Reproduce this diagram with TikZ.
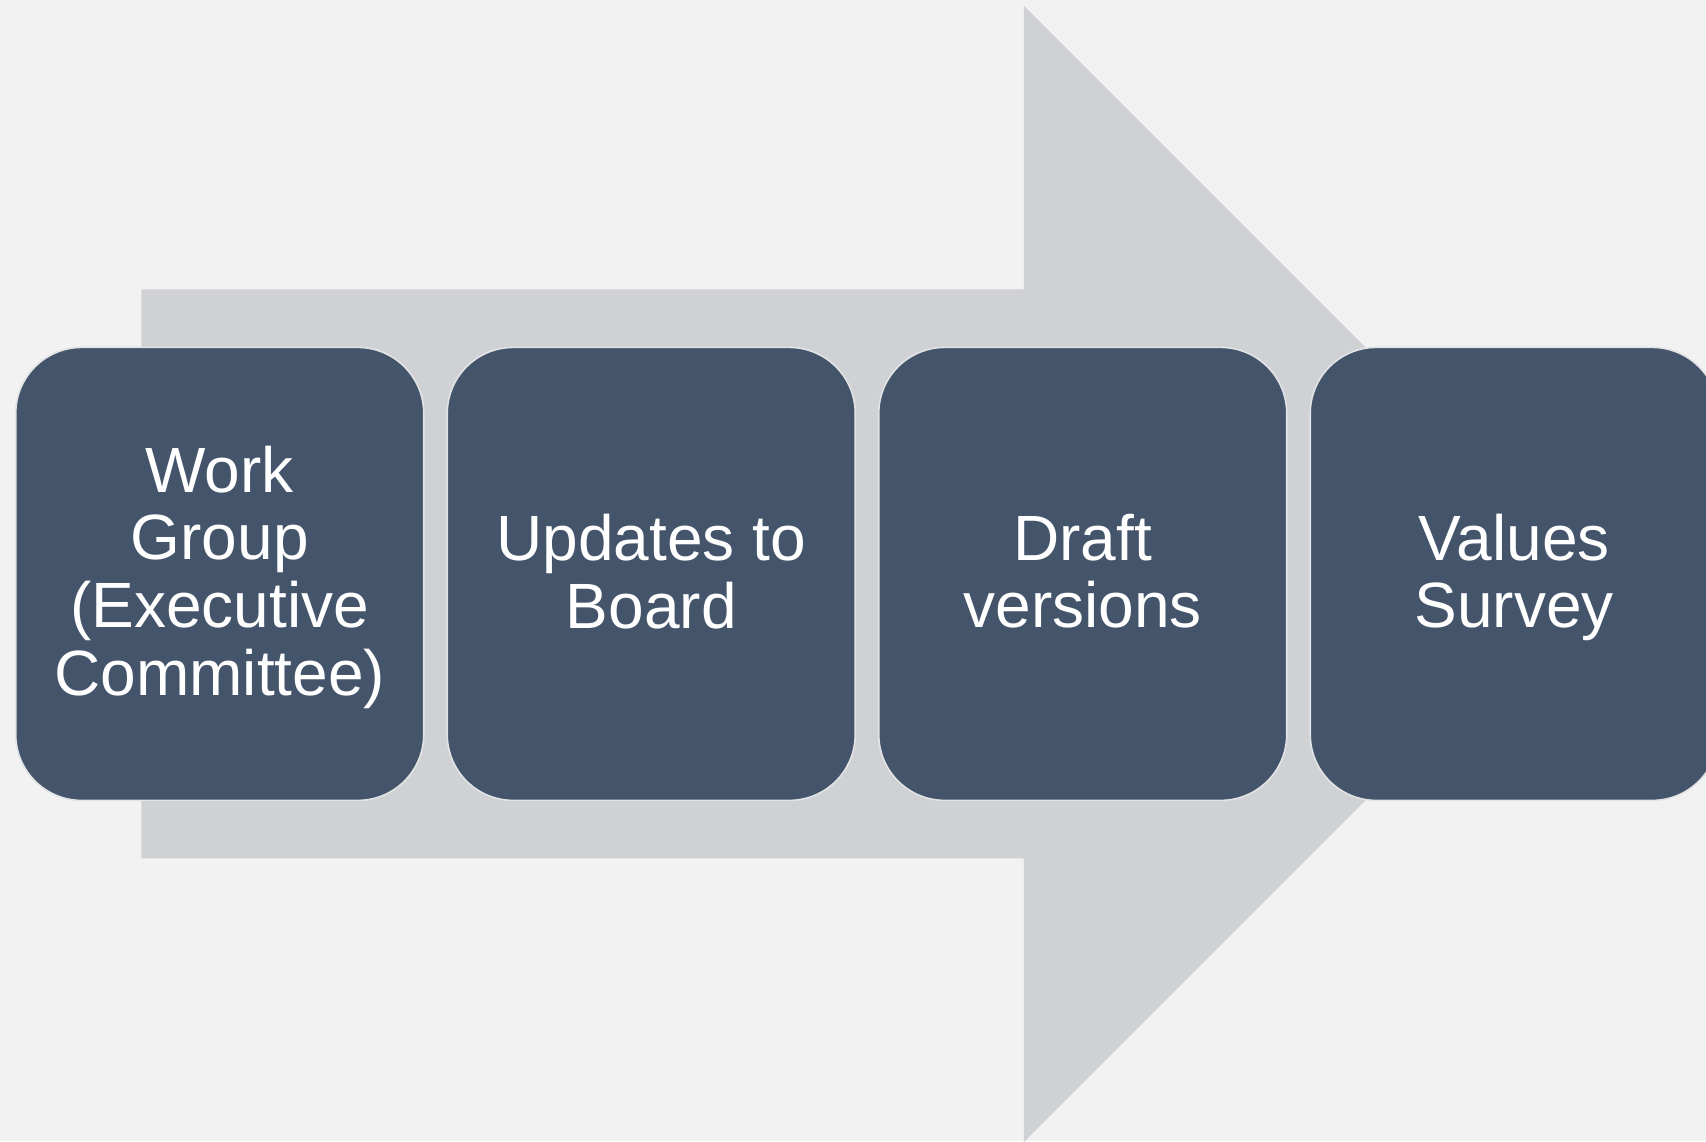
\documentclass[tikz,border=0pt]{standalone}
\usepackage{fontspec}
\setmainfont{Liberation Sans}
\definecolor{bg}{HTML}{F2F2F2}
\definecolor{arrowgray}{HTML}{D0D1D5}
\definecolor{slate}{HTML}{44546A}
\definecolor{rim}{HTML}{E2E3E5}
% strut that gives every text line the same height and depth
\newcommand\lnstrut{\rule[-12.95pt]{0pt}{66.7pt}}
\begin{document}
\begin{tikzpicture}[x=1pt,y=-1pt,
  stepbox/.style={draw=rim, line width=1.6pt, fill=slate, rounded corners=66pt,
    minimum width=408pt, minimum height=453pt, inner sep=0pt,
    text=white, align=center, font=\fontsize{64}{66.7}\selectfont}]
  \clip (0,0) rectangle (1706,1141);
  \fill[bg] (0,0) rectangle (1706,1141);
  % big background arrow
  \fill[arrowgray] (141.4,289.4) -- (1023.8,289.4) -- (1023.8,5.8) -- (1592,573.9)
    -- (1023.8,1142) -- (1023.8,858.4) -- (141.4,858.4) -- cycle;
  % process steps
  \node[stepbox] (s1) at (219.75,573.9)
    {\lnstrut Work\\\lnstrut Group\\\lnstrut (Executive\\\lnstrut Committee)};
  \node[stepbox] (s2) at (651.25,573.9) {\lnstrut Updates to\\\lnstrut Board};
  \node[stepbox] (s3) at (1082.75,573.9) {\lnstrut Draft\\\lnstrut versions};
  \node[stepbox] (s4) at (1514.25,573.9) {\lnstrut Values\\\lnstrut Survey};
\end{tikzpicture}
\end{document}
